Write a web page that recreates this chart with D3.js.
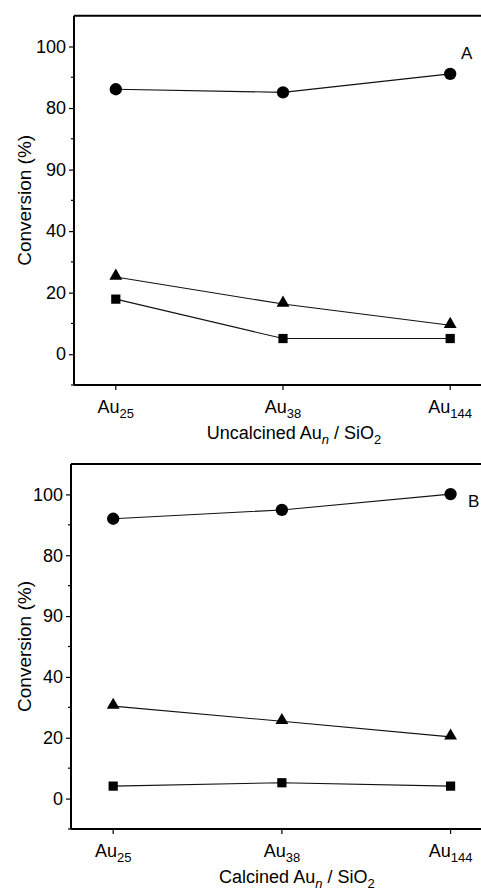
<!DOCTYPE html>
<html>
<head>
<meta charset="utf-8">
<script src="https://cdn.jsdelivr.net/npm/d3@7"></script>
<style>
  body { margin: 0; background: #fff; }
  text { font-family: "Liberation Sans", Arial, sans-serif; fill: #000; }
</style>
</head>
<body>
<svg width="481" height="895"></svg>
<script>
// categories and tick labels
var categories = ["25", "38", "144"];
var yTicks = [0, 20, 40, 60, 80, 100];
var yTickLabels = ["0", "20", "40", "90", "80", "100"];
var yMinor = [-10, 10, 30, 50, 70, 90];

// panel A: uncalcined
var circleA = [86.1, 85.1, 91.1];
var triangleA = [25.1, 16.3, 9.4];
var squareA = [17.9, 5.1, 5.1];

// panel B: calcined
var circleB = [92.0, 94.9, 100.1];
var triangleB = [30.4, 25.4, 20.3];
var squareB = [4.1, 5.2, 4.1];

var svg = d3.select("svg");

var panels = [
  { label: "A", labelX: 461, title: "Uncalcined", titleDx: 11, left: 74, step: 167.2, top: 15.7, bottom: 385,
    series: [circleA, triangleA, squareA] },
  { label: "B", labelX: 468, title: "Calcined", titleDx: 15, left: 71, step: 168.7, top: 464, bottom: 829,
    series: [circleB, triangleB, squareB] }
];
var shapes = [d3.symbolCircle, d3.symbolTriangle, d3.symbolSquare];
var sizes = [120, 72, 85];

panels.forEach(function(p) {
  var x = d3.scaleLinear().domain([-0.25, 2.25]).range([p.left, p.left + 2.5 * p.step]);
  var y = d3.scaleLinear().domain([-10, 110]).range([p.bottom, p.top]);
  var g = svg.append("g");

  // frame top and right
  g.append("line")
      .attr("x1", x(-0.25)).attr("x2", x(2.25))
      .attr("y1", y(110)).attr("y2", y(110))
      .attr("stroke", "#000").attr("stroke-width", 2);
  g.append("line")
      .attr("x1", x(2.25)).attr("x2", x(2.25))
      .attr("y1", y(110)).attr("y2", y(-10))
      .attr("stroke", "#000").attr("stroke-width", 2);

  // y axis
  var yAxis = d3.axisLeft(y).tickValues(yTicks).tickSize(5).tickPadding(3)
      .tickFormat(function(d, i) { return yTickLabels[i]; });
  var ya = g.append("g").attr("transform", "translate(" + x(-0.25) + ",0)").call(yAxis);
  ya.select(".domain").remove();
  ya.selectAll("text").style("font-size", "18px").style("font-family", "Liberation Sans, Arial, sans-serif");
  ya.selectAll("line").attr("stroke-width", 1.2);
  g.selectAll(".minor").data(yMinor).enter().append("line")
      .attr("x1", x(-0.25) - 3).attr("x2", x(-0.25))
      .attr("y1", function(d) { return y(d); }).attr("y2", function(d) { return y(d); })
      .attr("stroke", "#000").attr("stroke-width", 1.2);
  g.append("line")
      .attr("x1", x(-0.25)).attr("x2", x(-0.25))
      .attr("y1", y(110)).attr("y2", y(-10))
      .attr("stroke", "#000").attr("stroke-width", 2);

  // x axis
  g.append("line")
      .attr("x1", x(-0.25)).attr("x2", x(2.25))
      .attr("y1", y(-10)).attr("y2", y(-10))
      .attr("stroke", "#000").attr("stroke-width", 2);
  g.selectAll(".xt").data(categories).enter().append("line")
      .attr("x1", function(d, i) { return x(i); }).attr("x2", function(d, i) { return x(i); })
      .attr("y1", y(-10)).attr("y2", y(-10) + 5)
      .attr("stroke", "#000").attr("stroke-width", 1.2);
  var xl = g.selectAll(".xl").data(categories).enter().append("text")
      .attr("x", function(d, i) { return x(i); })
      .attr("y", y(-10) + 28)
      .attr("text-anchor", "middle")
      .style("font-size", "18px");
  xl.append("tspan").text("Au");
  xl.append("tspan").attr("dy", 5).style("font-size", "13px").text(function(d) { return d; });

  // x title
  var xt = g.append("text")
      .attr("x", x(1) + p.titleDx).attr("y", y(-10) + 54)
      .attr("text-anchor", "middle").style("font-size", "18px");
  xt.append("tspan").text(p.title + " Au");
  xt.append("tspan").attr("dy", 5).style("font-size", "13px").style("font-style", "italic").text("n");
  xt.append("tspan").attr("dy", -5).text(" / SiO");
  xt.append("tspan").attr("dy", 5).style("font-size", "13px").text("2");

  // y title
  g.append("text")
      .attr("transform", "translate(" + 31 + "," + y(50) + ") rotate(-90)")
      .attr("text-anchor", "middle").style("font-size", "19px")
      .text("Conversion (%)");

  // panel label
  g.append("text")
      .attr("x", p.labelX).attr("y", y(96))
      .style("font-size", "17px").text(p.label);

  // series
  var line = d3.line().x(function(d, i) { return x(i); }).y(function(d) { return y(d); });
  p.series.forEach(function(s, k) {
    g.append("path").datum(s).attr("d", line)
        .attr("fill", "none").attr("stroke", "#111").attr("stroke-width", 1.1);
    g.selectAll(".m" + k).data(s).enter().append("path")
        .attr("transform", function(d, i) {
          return "translate(" + x(i) + "," + (y(d) + (k === 1 ? -1 : 0)) + ")";
        })
        .attr("d", d3.symbol().type(shapes[k]).size(sizes[k]))
        .attr("fill", "#000");
  });
});
</script>
</body>
</html>
